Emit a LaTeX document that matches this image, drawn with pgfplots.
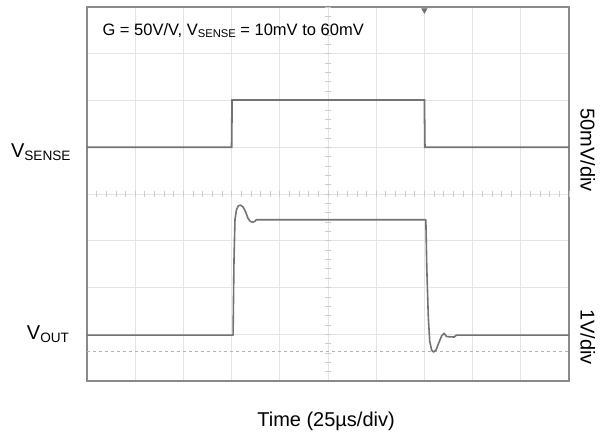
\documentclass[border=0pt]{standalone}
\usepackage{pgfplots}
\pgfplotsset{compat=1.18}
\usepackage{fontspec}
\setmainfont{Liberation Sans}

\definecolor{gridgray}{HTML}{E4E4E4}
\definecolor{minorgray}{HTML}{CCCCCC}
\definecolor{framegray}{HTML}{8A8A8A}
\definecolor{tracegray}{HTML}{737373}
\definecolor{dashgray}{HTML}{B4B4B4}

\newcommand\sub[1]{\raisebox{-0.28ex}{\fontsize{0.68em}{1em}\selectfont #1}}
\newcommand\lbl{\fontsize{20bp}{24bp}\selectfont}

\begin{document}
\begin{tikzpicture}
\useasboundingbox (-87bp,-51bp) rectangle (522bp,381bp);
\begin{axis}[
  at={(0,0)}, anchor=south west,
  width=482bp, height=374bp, scale only axis,
  xmin=0, xmax=10, ymin=0, ymax=8,
  xtick={0,...,10}, ytick={0,...,8},
  xticklabels={}, yticklabels={},
  grid=major,
  major grid style={draw=gridgray, line width=0.9bp},
  tick style={draw=none},
  axis line style={draw=framegray, line width=1.3bp},
  clip mode=individual,
]
% minor ticks on the centre lines
\pgfplotsinvokeforeach{0.2,0.4,...,9.9}{
  \draw[minorgray, line width=0.7bp] (axis cs:#1,3.936) -- (axis cs:#1,4.064);
}
\pgfplotsinvokeforeach{0.2,0.4,...,7.9}{
  \draw[minorgray, line width=0.7bp] (axis cs:4.938,#1) -- (axis cs:5.062,#1);
}

% ground reference of the output
\addplot[dashgray, dashed, line width=0.9bp] coordinates {(0,0.63) (10,0.63)};

% V_SENSE
\addplot[tracegray, line width=1.8bp] coordinates {
  (0,5.0) (3.0,5.0) (3.01,6.01) (7.0,6.01) (7.01,5.0) (10,5.0)};

% V_OUT
\addplot[tracegray, line width=1.6bp, line join=round] coordinates {
  (0,0.98) (3.03,0.98) (3.05,2.6) (3.07,3.45) (3.10,3.66) (3.14,3.75)
  (3.19,3.76) (3.24,3.72) (3.29,3.62) (3.34,3.48) (3.39,3.41) (3.45,3.40)
  (3.49,3.42) (3.51,3.45) (7.03,3.45) (7.05,2.4) (7.08,1.4) (7.11,0.85)
  (7.15,0.66) (7.19,0.62) (7.24,0.66) (7.30,0.82) (7.36,0.97) (7.41,1.02)
  (7.46,0.95) (7.62,0.94) (7.66,0.98) (10,0.98)};

% trigger markers
\addplot[only marks, mark=triangle*, mark size=3.2bp,
  mark options={rotate=180, fill=tracegray, draw=tracegray}] coordinates {(7,7.93)};
\addplot[only marks, mark=triangle*, mark size=2.2bp,
  mark options={rotate=-90, fill=minorgray, draw=minorgray}] coordinates {(-0.07,5.57)};

\node[anchor=west, font=\fontsize{16.5bp}{19bp}\selectfont] at (axis cs:0.25,7.5)
  {G = 50V/V, V\sub{SENSE} = 10mV to 60mV};
\node[anchor=base east, font=\lbl] at (axis cs:-0.27,4.79) {V\sub{SENSE}};
\node[anchor=base east, font=\lbl] at (axis cs:-0.30,0.88) {V\sub{OUT}};
\node[rotate=-90, font=\lbl] at (axis cs:10.39,4.94) {50mV/div};
\node[rotate=-90, font=\lbl] at (axis cs:10.39,0.94) {1V/div};
\node[anchor=base, font=\lbl] at (axis cs:4.96,-0.98) {Time (25µs/div)};
\end{axis}
\end{tikzpicture}
\end{document}
